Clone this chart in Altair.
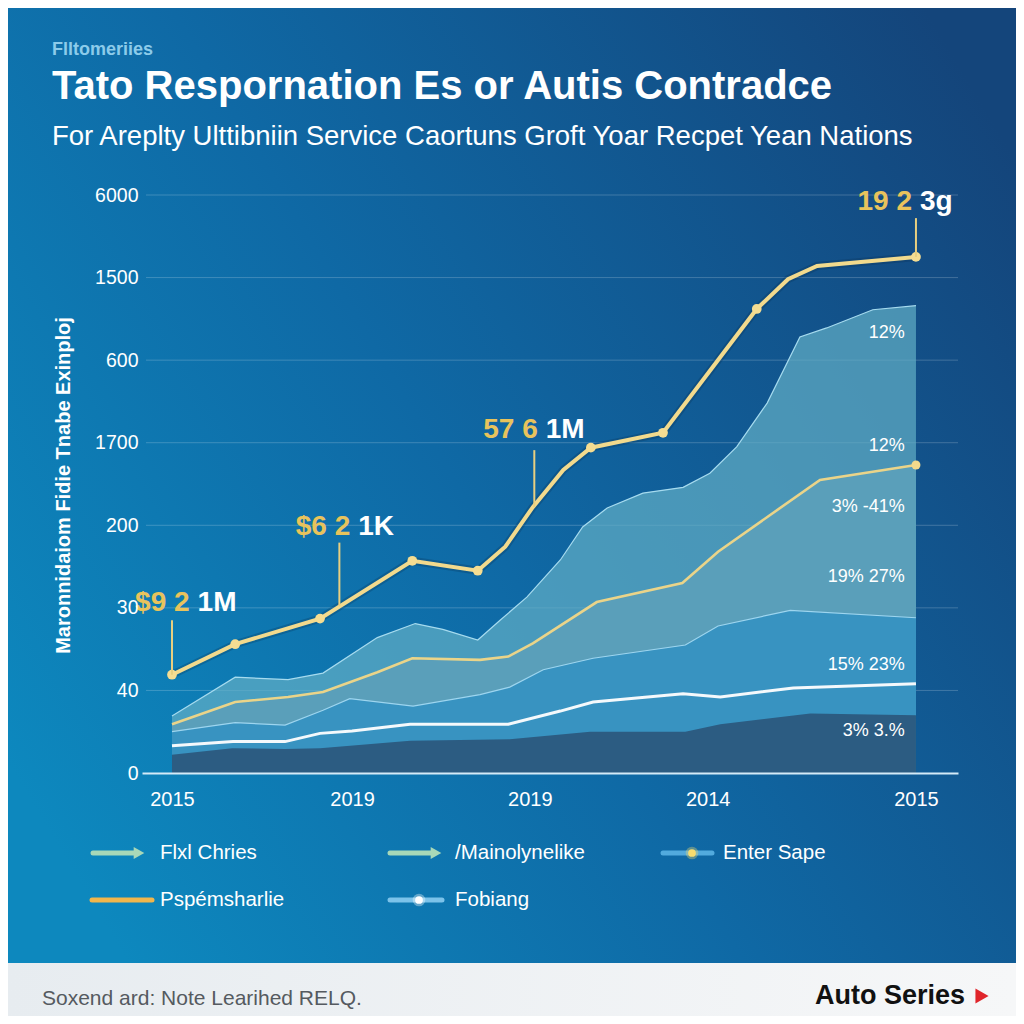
import json
import altair as alt
import pandas as pd

# ---------------- data (x in period units 0..10, y in axis-step units 0..7) ----------------
X_TICKS = [0, 2.42, 4.81, 7.2, 10.0]
X_LABELS = ["2015", "2019", "2019", "2014", "2015"]
Y_TICKS = [0, 1, 2, 3, 4, 5, 6, 7]
Y_LABELS = ["0", "40", "30", "200", "1700", "600", "1500", "6000"]

top_x = [0, 0.85, 1.56, 2.03, 2.76, 3.27, 3.64, 4.11, 4.41, 4.77, 5.22, 5.52, 5.85, 6.33, 6.87, 7.23, 7.59, 8.0, 8.44, 8.8, 9.42, 10.0]
top_y = [0.69, 1.16, 1.13, 1.21, 1.64, 1.81, 1.74, 1.61, 1.85, 2.13, 2.58, 2.98, 3.21, 3.39, 3.46, 3.63, 3.95, 4.48, 5.28, 5.39, 5.61, 5.66]

gold2_x = [0, 0.85, 1.56, 2.03, 2.76, 3.23, 4.14, 4.52, 4.85, 5.71, 6.86, 7.34, 8.71, 10.0]
gold2_y = [0.59, 0.86, 0.92, 0.98, 1.22, 1.39, 1.37, 1.41, 1.57, 2.07, 2.30, 2.68, 3.55, 3.73]

band3_x = [0, 0.85, 1.52, 2.03, 2.39, 3.24, 4.14, 4.54, 4.99, 5.66, 6.9, 7.34, 8.31, 10.0]
band3_y = [0.5, 0.61, 0.58, 0.76, 0.9, 0.81, 0.95, 1.04, 1.25, 1.39, 1.55, 1.78, 1.97, 1.88]

white_x = [0, 0.82, 1.52, 1.99, 2.42, 3.2, 4.52, 5.22, 5.66, 6.87, 7.37, 8.35, 10.0]
white_y = [0.33, 0.38, 0.38, 0.48, 0.51, 0.59, 0.59, 0.75, 0.86, 0.96, 0.92, 1.03, 1.08]

base_x = [0, 0.81, 1.52, 1.99, 3.2, 4.54, 5.62, 6.9, 7.37, 8.58, 10.0]
base_y = [0.22, 0.3, 0.29, 0.3, 0.39, 0.41, 0.5, 0.5, 0.59, 0.72, 0.7]

gold1_x = [0, 0.85, 1.99, 3.23, 4.11, 4.48, 4.85, 5.26, 5.63, 6.6, 7.86, 8.28, 8.67, 10.0]
gold1_y = [1.19, 1.56, 1.87, 2.57, 2.45, 2.74, 3.22, 3.67, 3.94, 4.12, 5.62, 5.98, 6.14, 6.25]
gold1_dot = [1, 1, 1, 1, 1, 0, 0, 0, 1, 1, 1, 0, 0, 1]

call_x = [0, 2.25, 4.87, 10.0]
call_top = [1.85, 2.79, 3.91, 6.72]
call_bot = [1.19, 2.02, 3.22, 6.25]
call_gold = ["$9 2", "$6 2", "57 6", "19 2"]
call_white = ["1M", "1K", "1M", "3g"]
call_lx = [0.29, 2.45, 4.97, 10.0]
call_ly = [2.06, 2.98, 4.15, 6.92]

pct_text = ["12%", "12%", "3% -41%", "19% 27%", "15% 23%", "3% 3.%"]
pct_y = [5.33, 3.96, 3.22, 2.37, 1.31, 0.51]
pct_x = [9.85] * 6

legend_labels = ["Flxl Chries", "/Mainolynelike", "Enter Sape", "Pspémsharlie", "Fobiang"]

KICKER = "Flltomeriies"
TITLE = "Tato Respornation Es or Autis Contradce"
SUBTITLE = "For Areplty Ulttibniin Service Caortuns Groft Yoar Recpet Yean Nations"
Y_TITLE = "Maronnidaiom Fidie Tnabe Exinploj"
FOOTNOTE = "Soxend ard: Note Learihed RELQ."
BRAND = "Auto Series"

# ---------------- layout ----------------
W, H = 816, 578
PAD = {"left": 134, "top": 187, "right": 58, "bottom": 243}
FONT = "Liberation Sans"

xs = alt.Scale(domain=[-0.403, 10.565], nice=False, zero=False)
ys = alt.Scale(domain=[0, 7], nice=False, zero=False)

xaxis = alt.Axis(values=X_TICKS,
                 labelExpr=f"{json.dumps(X_LABELS)}[indexof({json.dumps(X_TICKS)}, datum.value)]",
                 grid=False, ticks=False, domain=True, domainColor="#d4eaf7", domainWidth=2,
                 labelColor="white", labelFont=FONT, labelFontSize=20, labelPadding=16,
                 labelFlush=False, title=None, zindex=1)
yaxis = alt.Axis(values=Y_TICKS,
                 labelExpr=f"{json.dumps(Y_LABELS)}[datum.value]",
                 grid=False, ticks=False, domain=False,
                 labelColor="white", labelFont=FONT, labelFontSize=19.5, labelPadding=4,
                 title=Y_TITLE, titleColor="white", titleFont=FONT, titleFontSize=20,
                 titleFontWeight="bold", titleX=-79, titleY=290, titleAlign="center",
                 titleBaseline="middle", zindex=1)

X = alt.X("x:Q", scale=xs, axis=xaxis)
Y = alt.Y("y:Q", scale=ys, axis=yaxis)


def frame(xv, yv, **extra):
    d = pd.DataFrame({"x": xv, "y": yv})
    for k, v in extra.items():
        d[k] = v
    return d


ONE = pd.DataFrame({"a": [0]})


def txt(s, x, y, size, color="white", weight="normal", align="left", baseline="middle", font=FONT):
    return alt.Chart(ONE).mark_text(text=s, fontSize=size, color=color, fontWeight=weight,
                                    align=align, baseline=baseline, font=font).encode(
        x=alt.value(x), y=alt.value(y))


def hline(x1, x2, y, color, width=5):
    return alt.Chart(ONE).mark_rule(color=color, strokeWidth=width, strokeCap="round").encode(
        x=alt.value(x1), x2=alt.value(x2), y=alt.value(y))


def dot(x, y, color, size, shape="circle", opacity=1.0):
    return alt.Chart(ONE).mark_point(shape=shape, filled=True, color=color, size=size,
                                     opacity=opacity, strokeWidth=0).encode(
        x=alt.value(x), y=alt.value(y))


BG = {"gradient": "linear", "x1": 0, "y1": 0.75, "x2": 1, "y2": 0.15,
      "stops": [{"offset": 0, "color": "#0d88be"}, {"offset": 0.45, "color": "#0f69a5"},
                {"offset": 1, "color": "#14457b"}]}
FOOT = {"gradient": "linear", "x1": 0, "y1": 0, "x2": 1, "y2": 0,
        "stops": [{"offset": 0, "color": "#e7ecf0"}, {"offset": 1, "color": "#f6f7f8"}]}

background = alt.Chart(ONE).mark_rect(fill=BG).encode(
    x=alt.value(-PAD["left"]), x2=alt.value(W + PAD["right"]),
    y=alt.value(-PAD["top"]), y2=alt.value(H + PAD["bottom"]))
footer = alt.Chart(ONE).mark_rect(fill=FOOT).encode(
    x=alt.value(-PAD["left"]), x2=alt.value(W + PAD["right"]),
    y=alt.value(768), y2=alt.value(H + PAD["bottom"]))

grid = alt.Chart(frame([0] * 7, Y_TICKS[1:])).mark_rule(color="#ffffff", opacity=0.2, strokeWidth=1).encode(
    y=Y, x=alt.value(4), x2=alt.value(W))

df_top = frame(top_x, top_y)
df_g2 = frame(gold2_x, gold2_y)
df_b3 = frame(band3_x, band3_y)
df_w = frame(white_x, white_y)
df_b1 = frame(base_x, base_y)
df_g1 = frame(gold1_x, gold1_y, dot=gold1_dot)

area_top = alt.Chart(df_top).mark_area(color="#62afc6", line={"color": "#a6dbef", "strokeWidth": 1.2}).encode(x=X, y=Y)
area_g2 = alt.Chart(df_g2).mark_area(color="#5a9fba").encode(x=X, y=Y)
area_b3 = alt.Chart(df_b3).mark_area(color="#2a8ec5", line={"color": "#9dd5ef", "strokeWidth": 1.2}).encode(x=X, y=Y)
area_b1 = alt.Chart(df_b1).mark_area(color="#2c5c82").encode(x=X, y=Y)
line_w = alt.Chart(df_w).mark_line(color="#f4f9fc", strokeWidth=3).encode(x=X, y=Y)
line_g2 = alt.Chart(df_g2).mark_line(color="#ead489", strokeWidth=2.6).encode(x=X, y=Y)
end_g2 = alt.Chart(df_g2.tail(1)).mark_circle(color="#f2d98c", size=80, opacity=1).encode(x=X, y=Y)

shadow_g1 = alt.Chart(df_g1).mark_line(color="#062a4d", strokeWidth=8, opacity=0.25).encode(x=X, y=Y)
line_g1 = alt.Chart(df_g1).mark_line(color="#f2da8d", strokeWidth=4).encode(x=X, y=Y)
dots_g1 = alt.Chart(df_g1).transform_filter("datum.dot == 1").mark_circle(
    color="#f5dd92", size=95, opacity=1).encode(x=X, y=Y)

df_call = pd.DataFrame({"x": call_x, "y": call_top, "y2": call_bot})
leaders = alt.Chart(df_call).mark_rule(color="#e8cf80", strokeWidth=2).encode(
    x=X, y=Y, y2="y2:Q")
df_lab = pd.DataFrame({"x": call_lx, "y": call_ly, "g": call_gold, "w": call_white})
lab_gold = alt.Chart(df_lab).mark_text(align="right", baseline="middle", dx=-4, fontSize=28,
                                       fontWeight="bold", font=FONT, color="#e8c35c").encode(
    x=X, y=Y, text="g:N")
lab_white = alt.Chart(df_lab).mark_text(align="left", baseline="middle", dx=4, fontSize=28,
                                        fontWeight="bold", font=FONT, color="#ffffff").encode(
    x=X, y=Y, text="w:N")

df_pct = pd.DataFrame({"x": pct_x, "y": pct_y, "t": pct_text})
pct = alt.Chart(df_pct).mark_text(align="right", baseline="middle", fontSize=18, font=FONT,
                                  color="#ffffff").encode(x=X, y=Y, text="t:N")

# titles
titles = [
    txt(KICKER, -90, -140, 18, color="#8ccbea", weight="bold", baseline="alphabetic"),
    txt(TITLE, -90, -96, 40, weight="bold", baseline="alphabetic"),
    txt(SUBTITLE, -90, -50, 27.5, baseline="alphabetic"),
]

# legend
R1, R2 = 658, 705
MINT, GOLD, BLUE, LBLUE = "#a8d8b8", "#f1b64c", "#52aadd", "#7cc3ea"
legend = [
    hline(-49, -8, R1, MINT), dot(-3, R1, MINT, 150, shape="triangle-right"),
    txt(legend_labels[0], 18, R1, 20.5),
    hline(248, 289, R1, MINT), dot(294, R1, MINT, 150, shape="triangle-right"),
    txt(legend_labels[1], 313, R1, 20.5),
    hline(521, 570, R1, BLUE), dot(550, R1, "#f7dc6e", 160, opacity=0.35), dot(550, R1, "#f7dc6e", 60),
    txt(legend_labels[2], 581, R1, 20.5),
    hline(-50, 10, R2, GOLD),
    txt(legend_labels[3], 18, R2, 20.5),
    hline(248, 300, R2, LBLUE), dot(277, R2, "#ffffff", 160, opacity=0.35), dot(277, R2, "#ffffff", 60),
    txt(legend_labels[4], 313, R2, 20.5),
]

# footer
foot = [
    txt(FOOTNOTE, -100, 804, 21, color="#555a60"),
    txt(BRAND, 673, 801, 27, color="#111111", weight="bold"),
    dot(840, 801, "#e0252b", 230, shape="triangle-right"),
]

chart = alt.layer(
    background, footer, grid,
    area_top, area_g2, area_b3, area_b1, line_w, line_g2, end_g2,
    shadow_g1, line_g1, dots_g1, leaders, lab_gold, lab_white, pct,
    *titles, *legend, *foot,
).properties(
    width=W, height=H, padding=PAD, autosize=alt.AutoSizeParams(type="none"),
    background="#0f6aa5",
).configure_view(stroke=None)

chart.save("out.html", embed_options={"renderer": "svg", "actions": False})
